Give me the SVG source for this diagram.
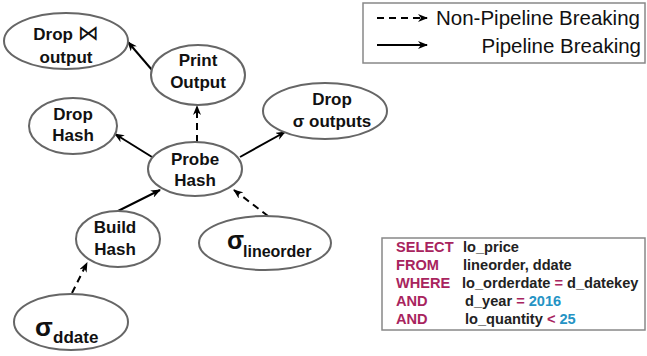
<svg xmlns="http://www.w3.org/2000/svg" width="647" height="356" viewBox="0 0 647 356">
<style>
.node{fill:#fff;stroke:#666;stroke-width:2}
.lbl{font-family:"Liberation Sans",Arial,sans-serif;font-weight:bold;font-size:17px;fill:#111;text-anchor:middle}
.sig{font-family:"Liberation Sans",Arial,sans-serif;font-weight:bold;fill:#111}
.edge{fill:none;stroke:#000;stroke-width:2}
.dash{stroke-dasharray:7 5}
.leg{font-family:"Liberation Sans",Arial,sans-serif;font-size:20.5px;fill:#111}
.sql{font-family:"Liberation Sans",Arial,sans-serif;font-weight:bold;font-size:14.6px;fill:#222}
.kw{fill:#A8245E}
.num{fill:#2593C4}
</style>
<defs>
<marker id="ah" viewBox="0 0 10 8" refX="9" refY="4" markerWidth="10" markerHeight="8" orient="auto" markerUnits="userSpaceOnUse">
<path d="M0,0 L10,4 L0,8 L3,4 z" fill="#000"/>
</marker>
</defs>
<g id="legend">
<rect x="363" y="3" width="282" height="60" fill="#fff" stroke="#888" stroke-width="1.5"/>
<line class="edge dash" x1="377" y1="18" x2="427" y2="18" marker-end="url(#ah)"/>
<line class="edge" x1="377" y1="45" x2="427" y2="45" marker-end="url(#ah)"/>
<text class="leg" x="436" y="25">Non-Pipeline Breaking</text>
<text class="leg" x="641" y="53" text-anchor="end">Pipeline Breaking</text>
</g>
<g id="connectors">
<line class="edge" x1="152" y1="70" x2="128" y2="42" marker-end="url(#ah)"/>
<line class="edge dash" x1="197" y1="142" x2="197" y2="106" marker-end="url(#ah)"/>
<line class="edge" x1="152" y1="157" x2="115" y2="134" marker-end="url(#ah)"/>
<line class="edge" x1="240" y1="157" x2="285" y2="132" marker-end="url(#ah)"/>
<line class="edge" x1="118" y1="211" x2="160" y2="190" marker-end="url(#ah)"/>
<line class="edge dash" x1="268" y1="216" x2="234" y2="190" marker-end="url(#ah)"/>
<line class="edge dash" x1="72" y1="293" x2="87" y2="263" marker-end="url(#ah)"/>
</g>
<g id="drop-join">
<ellipse class="node" cx="66" cy="41" rx="62" ry="28"/>
<text class="lbl" x="66" y="40">Drop <tspan font-family="'DejaVu Sans',sans-serif" font-weight="normal" font-size="21">⋈</tspan></text>
<text class="lbl" x="66" y="63">output</text>
</g>
<g id="print-output">
<ellipse class="node" cx="198" cy="75" rx="47" ry="30"/>
<text class="lbl" x="198" y="66">Print</text>
<text class="lbl" x="198" y="88">Output</text>
</g>
<g id="drop-hash">
<ellipse class="node" cx="73" cy="126" rx="44" ry="28"/>
<text class="lbl" x="73" y="120">Drop</text>
<text class="lbl" x="73" y="141">Hash</text>
</g>
<g id="drop-sigma">
<ellipse class="node" cx="325" cy="111" rx="62" ry="28"/>
<text class="lbl" x="332" y="105">Drop</text>
<text class="lbl" x="332" y="127">σ outputs</text>
</g>
<g id="probe-hash">
<ellipse class="node" cx="195" cy="169" rx="47" ry="27"/>
<text class="lbl" x="195" y="165">Probe</text>
<text class="lbl" x="195" y="186">Hash</text>
</g>
<g id="build-hash">
<ellipse class="node" cx="118" cy="239" rx="42" ry="28"/>
<text class="lbl" x="115" y="233">Build</text>
<text class="lbl" x="115" y="255">Hash</text>
</g>
<g id="sigma-lineorder">
<ellipse class="node" cx="265" cy="243" rx="66" ry="27"/>
<text class="sig" x="227" y="249" font-size="25">σ</text>
<text class="sig" x="243" y="257" font-size="16">lineorder</text>
</g>
<g id="sigma-ddate">
<ellipse class="node" cx="71" cy="322" rx="57" ry="28"/>
<text class="sig" x="35" y="336" font-size="26">σ</text>
<text class="sig" x="53" y="343" font-size="17">ddate</text>
</g>
<g id="sql">
<rect x="382" y="238" width="263" height="92" fill="#fff" stroke="#888" stroke-width="1.5"/>
<text class="sql" y="252"><tspan class="kw" x="396">SELECT</tspan><tspan x="463">lo_price</tspan></text>
<text class="sql" y="270"><tspan class="kw" x="396">FROM</tspan><tspan x="463">lineorder, ddate</tspan></text>
<text class="sql" y="288"><tspan class="kw" x="396">WHERE</tspan><tspan x="462">lo_orderdate </tspan><tspan class="kw">=</tspan><tspan> d_datekey</tspan></text>
<text class="sql" y="306"><tspan class="kw" x="396">AND</tspan><tspan x="465">d_year </tspan><tspan class="kw">=</tspan><tspan class="num"> 2016</tspan></text>
<text class="sql" y="324"><tspan class="kw" x="396">AND</tspan><tspan x="465">lo_quantity </tspan><tspan class="kw">&lt;</tspan><tspan class="num"> 25</tspan></text>
</g>
</svg>
